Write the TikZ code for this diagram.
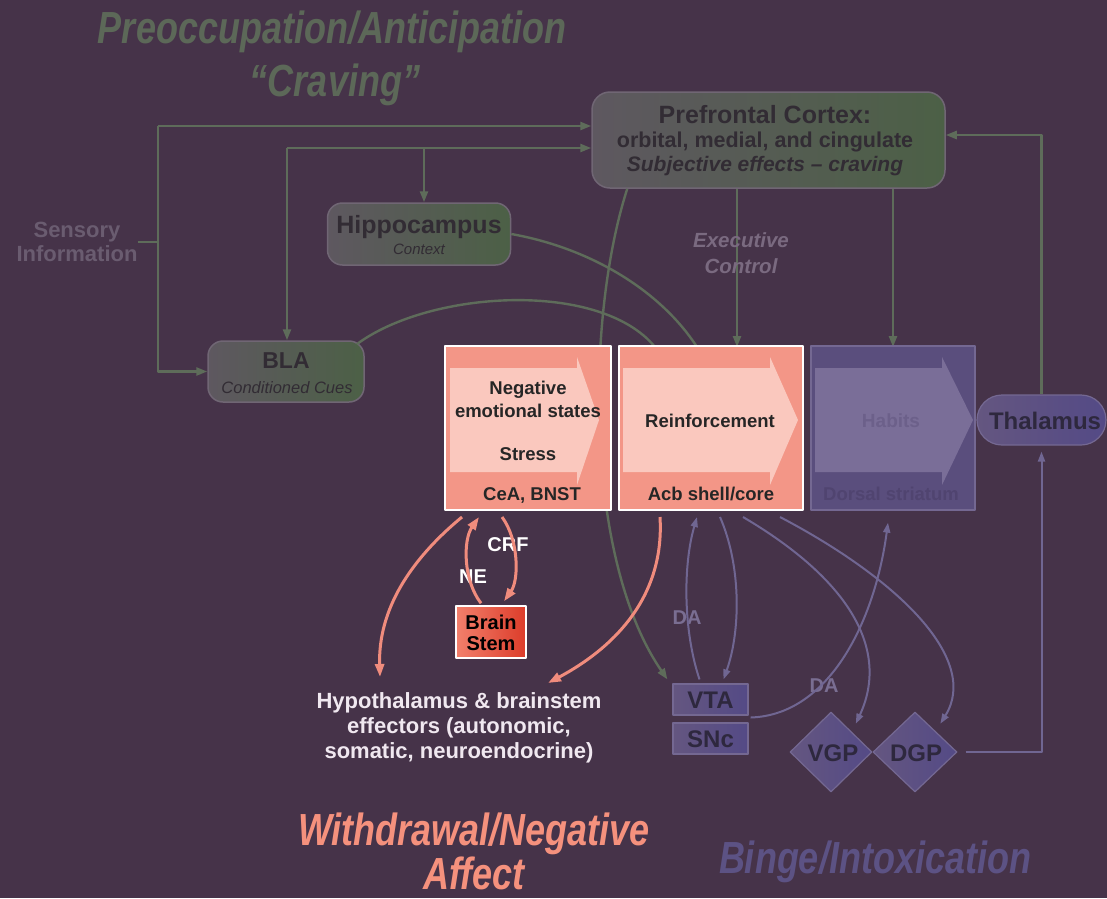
\documentclass[tikz,border=0pt]{standalone}
\usepackage{fontspec}
\setmainfont{Liberation Sans}
\newfontfamily\condfont[FakeStretch=0.8]{Liberation Sans}
\usetikzlibrary{arrows.meta,shapes.geometric}

\definecolor{bg}{RGB}{70,51,73}
\definecolor{gline}{RGB}{94,108,90}
\definecolor{gtitle}{RGB}{92,104,88}
\definecolor{pfcL}{RGB}{94,88,96}
\definecolor{pfcR}{RGB}{76,96,70}
\definecolor{gborder}{RGB}{112,102,116}
\definecolor{darktext}{RGB}{50,44,52}
\definecolor{fadetext}{RGB}{106,92,112}
\definecolor{exectext}{RGB}{122,106,128}
\definecolor{salmon}{RGB}{243,150,135}
\definecolor{pinkarrow}{RGB}{250,200,190}
\definecolor{sline}{RGB}{240,140,125}
\definecolor{bsL}{RGB}{242,128,108}
\definecolor{bsR}{RGB}{220,60,42}
\definecolor{pbox}{RGB}{90,78,125}
\definecolor{pboxL}{RGB}{100,86,128}
\definecolor{pboxR}{RGB}{84,74,134}
\definecolor{parrowc}{RGB}{122,110,152}
\definecolor{pborder}{RGB}{116,104,146}
\definecolor{pline}{RGB}{112,102,146}
\definecolor{ptext}{RGB}{46,40,62}
\definecolor{habits}{RGB}{108,96,138}
\definecolor{dorsal}{RGB}{80,68,112}
\definecolor{binge}{RGB}{92,82,132}
\definecolor{withdraw}{RGB}{245,145,125}
\definecolor{hyptext}{RGB}{240,232,240}
\definecolor{datext}{RGB}{122,110,146}

\tikzset{
  bt/.style={font=\bfseries\fontsize{#1}{#1}\selectfont, anchor=base, inner sep=0pt},
  bit/.style={font=\bfseries\itshape\fontsize{#1}{#1}\selectfont, anchor=base, inner sep=0pt},
  itx/.style={font=\itshape\fontsize{#1}{#1}\selectfont, anchor=base, inner sep=0pt},
  ttl/.style={font=\condfont\bfseries\itshape\fontsize{45}{45}\selectfont, anchor=base, inner sep=0pt},
  gl/.style={draw=gline, line width=2.4pt},
  garrow/.style={gl, -{Triangle[length=11pt,width=8pt]}},
  sarrow/.style={draw=sline, line width=3pt, -{Triangle[length=13pt,width=9pt]}},
  parrow/.style={draw=pline, line width=2pt, -{Triangle[length=10pt,width=7pt]}},
  gbox/.style={draw=gborder, line width=1.5pt, left color=pfcL, right color=pfcR, inner sep=0pt},
  sbox/.style={draw=white, line width=2pt, fill=salmon, inner sep=0pt},
  pbx/.style={draw=pborder, line width=1.2pt, left color=pboxL, right color=pboxR, inner sep=0pt},
}

\begin{document}
\begin{tikzpicture}[x=1pt,y=-1pt,line join=round]
\fill[bg] (0,0) rectangle (1107,898);
\useasboundingbox (0,0) rectangle (1107,898);

% ---------- titles
\node[ttl, text=gtitle] (t1) at (332,43) {Preoccupation/Anticipation};
\node[ttl, text=gtitle] (t2) at (335,96) {“Craving”};
\node[ttl, text=withdraw] (w1) at (474,845) {Withdrawal/Negative};
\node[ttl, text=withdraw] (w2) at (474,889) {Affect};
\node[ttl, text=binge] (b1) at (875,873) {Binge/Intoxication};

% ---------- boxes (placed first so lines can refer to them)
\node[gbox, minimum width=353pt, minimum height=96pt, rounded corners=18pt] (pfc) at (768.5,140) {};
\node[gbox, minimum width=183pt, minimum height=62pt, rounded corners=15pt] (hip) at (419,234) {};
\node[gbox, minimum width=156pt, minimum height=61pt, rounded corners=15pt] (bla) at (286,371.5) {};
\node[font=\bfseries\fontsize{22}{24}\selectfont, text=fadetext, align=center, inner sep=0pt] (sens) at (77,242) {Sensory\\Information};
\node[pbx, minimum width=129pt, minimum height=50pt, rounded corners=25pt] (thal) at (1041.5,420) {};
\node[pbx, minimum width=75pt, minimum height=31pt] (vta) at (710.5,699.5) {};
\node[pbx, minimum width=75pt, minimum height=31pt] (snc) at (710.5,738.5) {};

% coordinates for line branches
\coordinate (c1) at (158,126);
\coordinate (c2) at (287,148);
\coordinate (c3) at (424,148);
\coordinate (ex) at (737,0);
\coordinate (dsx) at (893,0);
\coordinate (tp) at (0,135);
\coordinate (r1) at (655,347);
\coordinate (r2) at (697,347);
\coordinate (h1) at (380,677);
\coordinate (h2) at (548,683);

% ---------- green connectors (behind the striatal boxes)
\draw[garrow] (c1) -- (pfc.west |- c1);
\draw[garrow] (c1) |- (bla.west);
\draw[gl] (sens.east) -- (sens.east -| c1);
\draw[garrow] (c2) -- (pfc.west |- c2);
\draw[garrow] (c2) -- (c2 |- bla.north);
\draw[garrow] (c3) -- (c3 |- hip.north);
\draw[gl] ([shift={(-8,4)}]bla.north east) .. controls (430,290) and (600,280) .. (r1);
\draw[gl] (hip.east) .. controls (590,248) and (660,290) .. (r2);
\draw[garrow] (pfc.south -| ex) -- (ex |- r1);
\draw[garrow] (pfc.south -| dsx) -- (dsx |- r1);
\draw[garrow] (thal.north) |- (pfc.east |- tp);
\draw[garrow] ([shift={(36,0)}]pfc.south west) .. controls (585,320) and (585,560) .. ([shift={(-5,-4)}]vta.north west);

% ---------- striatal boxes
\node[sbox, minimum width=166pt, minimum height=164pt] (neg) at (528,428) {};
\node[sbox, minimum width=184pt, minimum height=164pt] (reinf) at (711,428) {};
\node[draw=pborder, line width=1.2pt, fill=pbox, minimum width=164pt, minimum height=164pt, inner sep=0pt] (dors) at (893,428) {};

\fill[pinkarrow] (450,368) -- (577,368) -- (577,357) -- (599,420) -- (577,485) -- (577,472) -- (450,472) -- cycle;
\fill[pinkarrow] (623,368) -- (770,368) -- (770,357) -- (798,420) -- (770,485) -- (770,472) -- (623,472) -- cycle;
\fill[parrowc] (815,368) -- (942,368) -- (942,357) -- (973,420) -- (942,485) -- (942,472) -- (815,472) -- cycle;

% ---------- texts
\node[bt=25, text=darktext] (pfc1) at (765,123) {Prefrontal Cortex:};
\node[bt=21.5, text=darktext] (pfc2) at (765,147) {orbital, medial, and cingulate};
\node[bit=21, text=darktext] (pfc3) at (765,171) {Subjective effects – craving};
\node[bt=25, text=darktext] (hipt) at (419,233) {Hippocampus};
\node[itx=15, text=darktext] (hipc) at (419,254) {Context};
\node[bt=23, text=darktext] (blat) at (286,368) {BLA};
\node[itx=16.5, text=darktext] (blac) at (287,393) {Conditioned Cues};
\node[bit=20.5, text=exectext] (exe1) at (741,247) {Executive};
\node[bit=20.5, text=exectext] (exe2) at (741,273) {Control};

\node[bt=18.5, text=black!85] (neg1) at (528,394) {Negative};
\node[bt=18.5, text=black!85] (neg2) at (528,417) {emotional states};
\node[bt=18.5, text=black!85] (neg3) at (528,460) {Stress};
\node[bt=18.5, text=black!85] (neg4) at (532,500) {CeA, BNST};
\node[bt=18.5, text=black!85] (re1) at (710,427) {Reinforcement};
\node[bt=18.5, text=black!85] (re2) at (711,500) {Acb shell/core};
\node[bt=19, text=habits] (ha1) at (891,427) {Habits};
\node[bt=18.5, text=dorsal] (ha2) at (891,500) {Dorsal striatum};
\node[bt=24, text=ptext] (thalt) at (1045,429) {Thalamus};

% ---------- brain stem & hypothalamus
\node[draw=white, line width=1.5pt, left color=bsL, right color=bsR, minimum width=70pt, minimum height=52pt, inner sep=0pt] (bs) at (491,632) {};
\node[bt=20, text=black] (bs1) at (491,629) {Brain};
\node[bt=20, text=black] (bs2) at (491,650) {Stem};
\node[bt=22, text=hyptext] (hy1) at (459,708) {Hypothalamus \& brainstem};
\node[bt=22, text=hyptext] (hy2) at (459,733) {effectors (autonomic,};
\node[bt=22, text=hyptext] (hy3) at (459,758) {somatic, neuroendocrine)};
\node[bt=20, text=white] (crf) at (508,551) {CRF};
\node[bt=20, text=white] (ne) at (473,583) {NE};

\draw[sarrow] ([shift={(-66,6)}]neg.south) .. controls (410,560) and (378,610) .. (h1);
\draw[sarrow] ([shift={(-10,-2)}]bs.north) .. controls (463,580) and (463,540) .. ([shift={(-49,6)}]neg.south);
\draw[sarrow] ([shift={(-26,6)}]neg.south) .. controls (519,540) and (519,580) .. ([shift={(13,-4)}]bs.north);
\draw[sarrow] ([shift={(-51,6)}]reinf.south) .. controls (665,600) and (610,650) .. (h2);

% ---------- VTA/SNc texts, pallidum
\node[bt=24, text=ptext] (vtat) at (710.5,708) {VTA};
\node[bt=24, text=ptext] (snct) at (710.5,747) {SNc};
\node[diamond, draw=pborder, line width=1.2pt, left color=pboxL, right color=pboxR, minimum width=82pt, minimum height=80pt, inner sep=0pt] (vgp) at (831,752) {};
\node[diamond, draw=pborder, line width=1.2pt, left color=pboxL, right color=pboxR, minimum width=84pt, minimum height=80pt, inner sep=0pt] (dgp) at (915,752) {};
\node[bt=24, text=ptext] (vgpt) at (833,761) {VGP};
\node[bt=24, text=ptext] (dgpt) at (916,761) {DGP};
\node[bt=20, text=datext] (da1) at (687,624) {DA};
\node[bt=20, text=datext] (da2) at (824,692) {DA};

\draw[parrow] ([shift={(-11,-4)}]vta.north) .. controls (683,630) and (683,565) .. ([shift={(-14,6)}]reinf.south);
\draw[parrow] ([shift={(9,6)}]reinf.south) .. controls (741,565) and (741,630) .. ([shift={(13,-4)}]vta.north);
\draw[parrow] ([shift={(32,6)}]reinf.south) .. controls (850,580) and (890,650) .. ([shift={(4,-8)}]vgp.north east);
\draw[parrow] ([shift={(69,6)}]reinf.south) .. controls (900,580) and (980,660) .. ([shift={(4,-8)}]dgp.north east);
\draw[parrow] ([shift={(2,18)}]vta.east) .. controls (830,715) and (875,620) .. ([shift={(-5,12)}]dors.south);
\draw[parrow] ([shift={(8,0)}]dgp.east) -| ([shift={(0,6)}]thal.south);
\end{tikzpicture}
\end{document}
